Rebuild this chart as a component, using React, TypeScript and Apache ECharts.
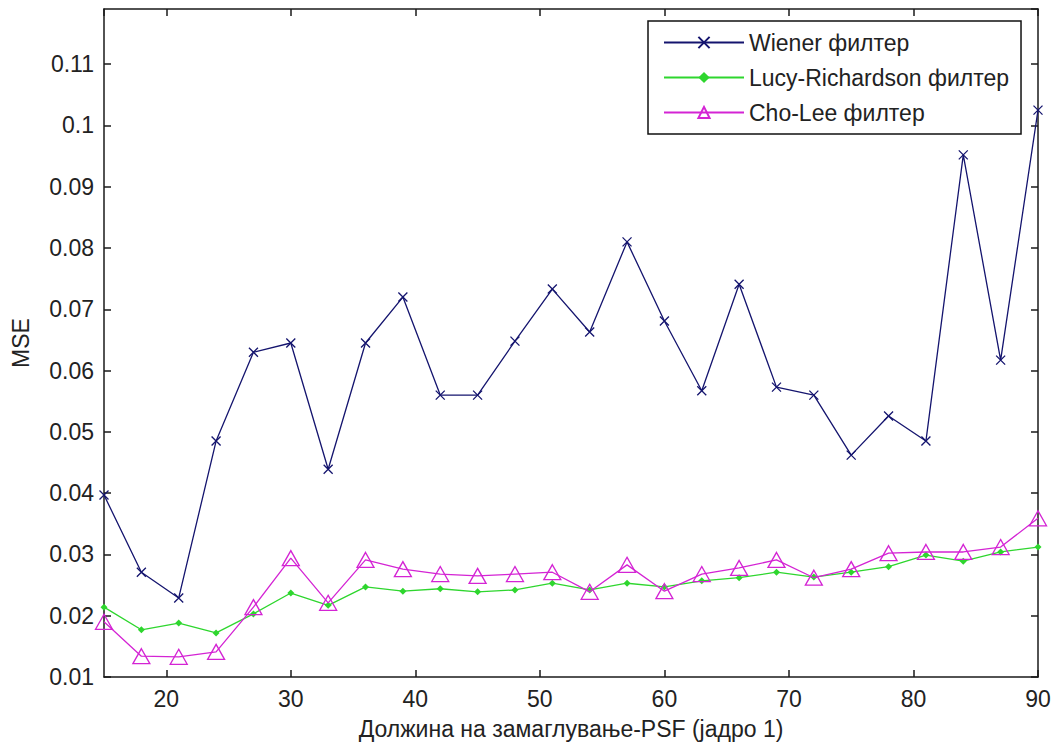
import React, { useEffect, useRef } from "react";
import * as echarts from "echarts";

const xs = [15, 18, 21, 24, 27, 30, 33, 36, 39, 42, 45, 48, 51, 54, 57, 60, 63, 66, 69, 72, 75, 78, 81, 84, 87, 90];
const wiener = [0.0397, 0.0271, 0.0229, 0.0485, 0.063, 0.0645, 0.0439, 0.0645, 0.072, 0.056, 0.056, 0.0648, 0.0733, 0.0663, 0.081, 0.0681, 0.0567, 0.0741, 0.0573, 0.056, 0.0462, 0.0526, 0.0485, 0.0952, 0.0617, 0.1025];
const lucy = [0.0214, 0.0177, 0.0188, 0.0172, 0.0203, 0.0237, 0.0217, 0.0247, 0.024, 0.0244, 0.0239, 0.0242, 0.0253, 0.0242, 0.0253, 0.0247, 0.0257, 0.0262, 0.0271, 0.0263, 0.0271, 0.028, 0.0299, 0.0289, 0.0304, 0.0312];
const choLee = [0.019, 0.0134, 0.0133, 0.0141, 0.0214, 0.0294, 0.0221, 0.0291, 0.0276, 0.0268, 0.0265, 0.0268, 0.0271, 0.0239, 0.0283, 0.024, 0.0268, 0.0278, 0.0291, 0.0262, 0.0276, 0.0302, 0.0304, 0.0304, 0.0312, 0.0359];
const seriesNames = ["Wiener филтер", "Lucy-Richardson филтер", "Cho-Lee филтер"];
const xTitle = "Должина на замаглување-PSF (јадро 1)";
const yTitle = "MSE";

const FONT = "'Liberation Sans', Arial, sans-serif";
const TXT = "#222";
const AX = "#1a1a1a";

export default function App() {
  const ref = useRef<HTMLDivElement>(null);
  useEffect(() => {
    if (!ref.current) return;
    const chart = echarts.init(ref.current, null, { renderer: "svg" });
    const pairs = (arr: number[]) => xs.map((x, i) => [x, arr[i]]);
    const axisLine = { show: true, lineStyle: { color: AX, width: 1.5 } };
    const tick = { show: true, inside: true, length: 7, lineStyle: { color: AX, width: 1.5 } };
    const xCommon = { type: "value", min: 15, max: 90, splitNumber: 8, splitLine: { show: false }, axisLine, axisTick: tick };
    const yCommon = { type: "value", min: 0.01, max: 0.119, interval: 0.01, splitLine: { show: false }, axisLine, axisTick: tick };
    chart.setOption({
      animation: false,
      backgroundColor: "#fff",
      textStyle: { fontFamily: FONT },
      grid: { left: 104, right: 16, top: 9, bottom: 72, containLabel: false },
      xAxis: [
        {
          ...xCommon,
          position: "bottom",
          name: xTitle,
          nameLocation: "middle",
          nameGap: 40,
          nameTextStyle: { fontSize: 23, color: TXT, fontFamily: FONT },
          axisLabel: { show: true, showMinLabel: false, fontSize: 23, color: TXT, margin: 10, fontFamily: FONT },
        },
        { ...xCommon, position: "top", axisLabel: { show: false } },
      ],
      yAxis: [
        {
          ...yCommon,
          position: "left",
          name: yTitle,
          nameLocation: "middle",
          nameGap: 72,
          nameTextStyle: { fontSize: 23, color: TXT, fontFamily: FONT },
          axisLabel: { show: true, showMaxLabel: false, fontSize: 23, color: TXT, margin: 10, fontFamily: FONT },
        },
        { ...yCommon, position: "right", axisLabel: { show: false } },
      ],
      legend: {
        orient: "vertical",
        left: 648,
        top: 21,
        padding: [10, 12, 10, 15],
        itemGap: 12,
        itemWidth: 80,
        itemHeight: 14,
        borderColor: "#111",
        borderWidth: 1.5,
        backgroundColor: "#fff",
        textStyle: { fontSize: 23, color: TXT, fontFamily: FONT },
        data: seriesNames,
      },
      series: [
        {
          name: seriesNames[0],
          type: "line",
          data: pairs(wiener),
          symbol: "path://M0,0L10,10M10,0L0,10",
          symbolSize: 9,
          itemStyle: { color: "none", borderColor: "#14146e", borderWidth: 1.3 },
          lineStyle: { color: "#14146e", width: 1.3 },
          z: 3,
        },
        {
          name: seriesNames[1],
          type: "line",
          data: pairs(lucy),
          symbol: "diamond",
          symbolSize: 7,
          itemStyle: { color: "#2ed62e" },
          lineStyle: { color: "#2ed62e", width: 1.3 },
          z: 2,
        },
        {
          name: seriesNames[2],
          type: "line",
          data: pairs(choLee),
          symbol: "triangle",
          symbolSize: [17, 15],
          itemStyle: { color: "none", borderColor: "#d424d4", borderWidth: 1.3 },
          lineStyle: { color: "#d424d4", width: 1.3 },
          z: 4,
        },
      ],
    });
    return () => chart.dispose();
  }, []);
  return <div ref={ref} style={{ position: "fixed", left: 0, top: 0, width: 1054, height: 749 }} />;
}
